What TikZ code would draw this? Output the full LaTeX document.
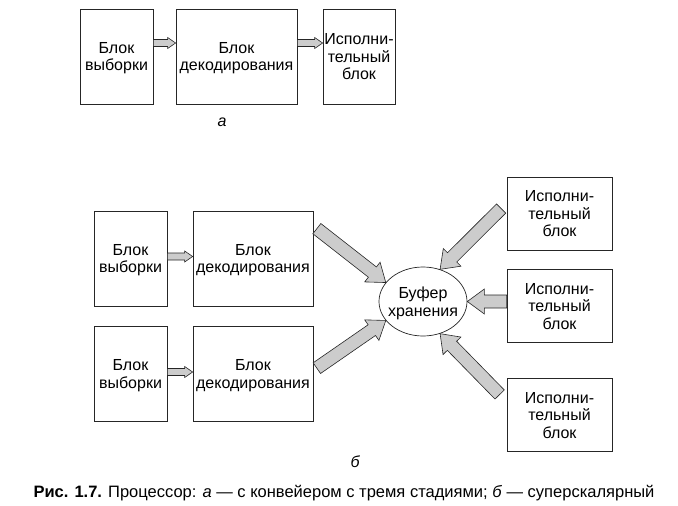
\documentclass[tikz,border=0pt]{standalone}
\usepackage{fontspec}
\setmainfont{Liberation Sans}
\usetikzlibrary{calc,shapes.geometric}

\tikzset{
  blok/.style={draw=black!85, line width=0.7pt, inner sep=0pt, align=center,
    minimum height=95pt, text depth=0pt, font=\fontsize{16}{17.5}\selectfont},
  ispblok/.style={blok, minimum width=105pt, minimum height=73pt},
  bufer/.style={draw=black!85, line width=0.7pt, ellipse, inner sep=-5pt, align=center,
    minimum width=88pt, minimum height=69pt, text depth=0pt, font=\fontsize{16}{17.5}\selectfont},
  strelka/.style={draw=black!85, line width=0.6pt, fill=gray!40, line join=miter},
}

% block arrow: tail, tip, half body, half head, head length
\newcommand{\blockarrow}[5]{%
  \coordinate (ba-s) at (#1);
  \coordinate (ba-e) at (#2);
  \coordinate (ba-h) at ($(ba-e)!#5!(ba-s)$);
  \filldraw[strelka] ($(ba-s)!#3!90:(ba-e)$) -- ($(ba-h)!#3!-90:(ba-s)$)
    -- ($(ba-h)!#4!-90:(ba-s)$) -- (ba-e) -- ($(ba-h)!#4!90:(ba-s)$)
    -- ($(ba-h)!#3!90:(ba-s)$) -- ($(ba-s)!#3!-90:(ba-e)$) -- cycle;
}

\begin{document}
\begin{tikzpicture}[x=1pt,y=-1pt]
  \useasboundingbox (0,0) rectangle (678,506);

  % a
  \node[blok, minimum width=73pt] (a1) at (116.5,56.5) {Блок\\выборки};
  \node[blok, minimum width=121pt] (a2) at (236.5,56.5) {Блок\\декодирования};
  \node[blok, minimum width=72pt] (a3) at (359,56.5) {Исполни-\\тельный\\блок};
  \blockarrow{[yshift=13.5pt]a1.east}{[yshift=13.5pt]a2.west}{3.5pt}{5.5pt}{8pt}
  \blockarrow{[yshift=13.5pt]a2.east}{[yshift=13.5pt]a3.west}{3.5pt}{5.5pt}{8pt}
  \node[font=\fontsize{16}{17.5}\selectfont\itshape] (la) at (222,122) {а};

  % b
  \node[blok, minimum width=73pt] (b1) at (130.5,258.5) {Блок\\выборки};
  \node[blok, minimum width=120pt] (d1) at (253,258.5) {Блок\\декодирования};
  \node[blok, minimum width=73pt] (b2) at (130.5,374) {Блок\\выборки};
  \node[blok, minimum width=120pt] (d2) at (253,374) {Блок\\декодирования};
  \node[bufer] (buf) at (423,301.5) {Буфер\\хранения};
  \node[ispblok] (e1) at (559.5,213.5) {Исполни-\\тельный\\блок};
  \node[ispblok] (e2) at (559.5,306) {Исполни-\\тельный\\блок};
  \node[ispblok] (e3) at (559.5,415) {Исполни-\\тельный\\блок};

  \blockarrow{[yshift=2pt]b1.east}{[yshift=2pt]d1.west}{3.5pt}{5.5pt}{8pt}
  \blockarrow{[yshift=2pt]b2.east}{[yshift=2pt]d2.west}{3.5pt}{5.5pt}{8pt}
  \blockarrow{[xshift=3.5pt,yshift=-18pt]d1.north east}{buf.153}{6.5pt}{12.5pt}{17pt}
  \blockarrow{[xshift=3.5pt,yshift=-42pt]d2.north east}{buf.207}{6.5pt}{12.5pt}{17pt}
  \blockarrow{[xshift=-5.5pt,yshift=5pt]e1.west}{buf.62}{6.5pt}{12.5pt}{17pt}
  \blockarrow{e2.west |- buf.east}{buf.east}{6.5pt}{12.5pt}{17pt}
  \blockarrow{[xshift=-7pt,yshift=20.5pt]e3.west}{buf.-62}{6.5pt}{12.5pt}{17pt}
  \node[font=\fontsize{16}{17.5}\selectfont\itshape] (lb) at (355,462) {б};

  % caption
  \node[font=\fontsize{16.5}{19}\selectfont] (cap) at (344,493)
    {\textbf{Рис. 1.7.} Процессор: \textit{а} — с конвейером с тремя стадиями; \textit{б} — суперскалярный};
\end{tikzpicture}
\end{document}
